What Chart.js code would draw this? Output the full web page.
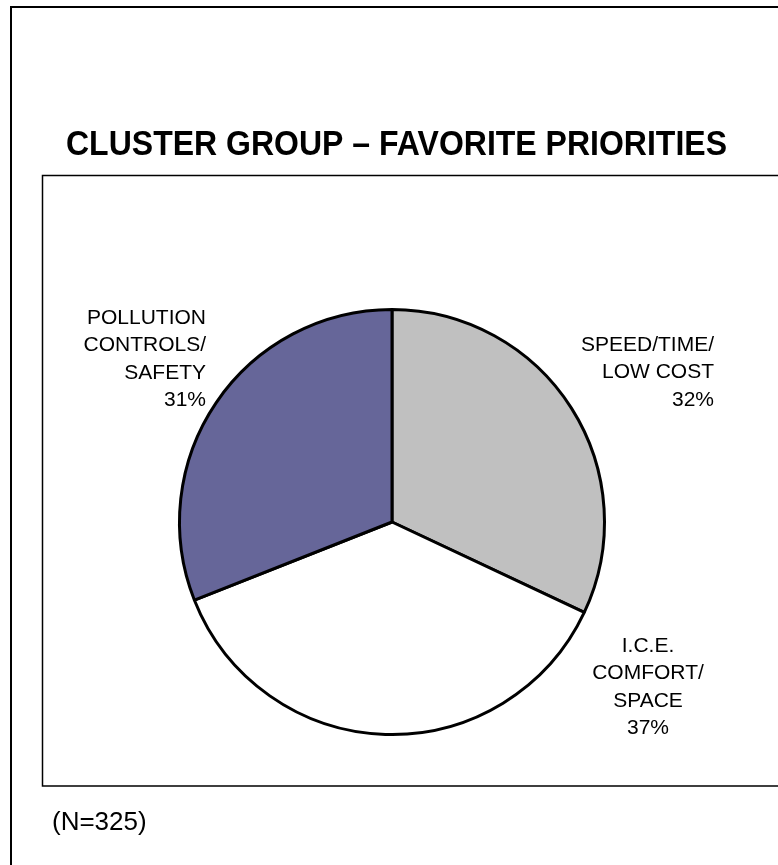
<!DOCTYPE html>
<html>
<head>
    <title>Cluster Group - Favorite Priorities</title>
    <script src="https://cdn.jsdelivr.net/npm/chart.js"></script>
    <style>
        body { margin: 0; background: #fff; }
    </style>
</head>
<body>
    <canvas id="pieChart" width="778" height="865"></canvas>
    <script>
        // chart data
        const titleText = 'CLUSTER GROUP \u2013 FAVORITE PRIORITIES';
        const noteText = '(N=325)';
        const categories = [
            ['SPEED/TIME/', 'LOW COST'],
            ['I.C.E.', 'COMFORT/', 'SPACE'],
            ['POLLUTION', 'CONTROLS/', 'SAFETY']
        ];
        const shares = [32, 37, 31];
        const sliceColors = ['#c0c0c0', '#ffffff', '#666699'];

        const FONT = '"Liberation Sans", Arial, sans-serif';

        // label placement relative to pie centre (x offset, first baseline offset, align)
        const labelPlace = [
            { dx: 322, dy: -171, align: 'right' },
            { dx: 256, dy: 130, align: 'center' },
            { dx: -186, dy: -198, align: 'right' }
        ];

        const framePlugin = {
            id: 'frame',
            beforeDraw(chart) {
                const c = chart.ctx;
                c.save();
                c.fillStyle = '#fff';
                c.fillRect(0, 0, chart.width, chart.height);
                c.strokeStyle = '#000';
                // outer frame
                c.lineWidth = 2;
                c.beginPath();
                c.moveTo(11, chart.height + 5);
                c.lineTo(11, 7);
                c.lineTo(chart.width + 5, 7);
                c.stroke();
                // plot box
                c.lineWidth = 1.5;
                c.beginPath();
                c.moveTo(chart.width + 5, 175.5);
                c.lineTo(42.5, 175.5);
                c.lineTo(42.5, 786);
                c.lineTo(chart.width + 5, 786);
                c.stroke();
                // title
                c.fillStyle = '#000';
                c.font = 'bold 35px ' + FONT;
                const w = c.measureText(titleText).width;
                c.translate(66, 155);
                c.scale(661 / w, 1);
                c.textAlign = 'left';
                c.textBaseline = 'alphabetic';
                c.fillText(titleText, 0, 0);
                c.restore();

                c.save();
                c.fillStyle = '#000';
                c.font = '26px ' + FONT;
                c.textAlign = 'left';
                c.fillText(noteText, 52, 830);
                c.restore();
            },
            afterDatasetsDraw(chart) {
                const c = chart.ctx;
                const arcs = chart.getDatasetMeta(0).data;
                c.save();
                c.fillStyle = '#000';
                c.font = '21px ' + FONT;
                c.textBaseline = 'alphabetic';
                arcs.forEach((arc, i) => {
                    const p = labelPlace[i];
                    const lines = categories[i].concat([shares[i] + '%']);
                    c.textAlign = p.align;
                    lines.forEach((t, j) => {
                        c.fillText(t, arc.x + p.dx, arc.y + p.dy + j * 27.3);
                    });
                });
                c.restore();
            }
        };

        const ctx = document.getElementById('pieChart').getContext('2d');
        const chart = new Chart(ctx, {
            type: 'pie',
            data: {
                labels: categories.map(l => l.join(' ')),
                datasets: [{
                    data: shares,
                    backgroundColor: sliceColors,
                    borderColor: '#000',
                    borderWidth: 3
                }]
            },
            options: {
                responsive: false,
                animation: false,
                layout: {
                    padding: { left: 178, right: 172, top: 308, bottom: 129 }
                },
                plugins: {
                    legend: { display: false },
                    tooltip: { enabled: false },
                    title: { display: false }
                }
            },
            plugins: [framePlugin]
        });
    </script>
</body>
</html>
